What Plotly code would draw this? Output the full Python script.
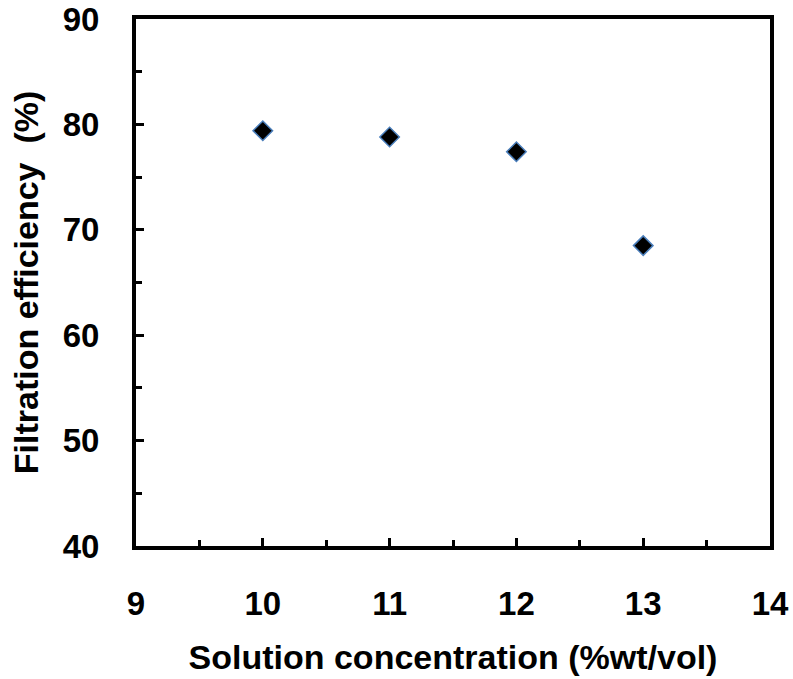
import plotly.graph_objects as go

concentration = [10, 11, 12, 13]
efficiency = [79.4, 78.8, 77.4, 68.5]
x_ticks = [9, 10, 11, 12, 13, 14]
y_ticks = [40, 50, 60, 70, 80, 90]

fig = go.Figure()
fig.add_trace(go.Scatter(
    x=concentration, y=efficiency, mode="markers",
    marker=dict(symbol="diamond", size=15, color="black",
                line=dict(color="#4a7ebb", width=1.5)),
    showlegend=False,
))

font_family = "Liberation Sans, Arial, sans-serif"
axis_common = dict(
    showline=True, linewidth=4, linecolor="black", mirror=True,
    showgrid=False, zeroline=False, automargin=False,
    ticks="inside", ticklen=8, tickwidth=3, tickcolor="black",
    tickfont=dict(family=font_family, size=33, color="black"),
)

fig.update_layout(
    width=793, height=679,
    margin=dict(l=136, r=23, t=19, b=133),
    paper_bgcolor="white", plot_bgcolor="white",
    font=dict(family=font_family, color="black"),
    xaxis=dict(
        range=[9, 14], tickvals=x_ticks, ticktext=[f"<b>{v}</b>" for v in x_ticks],
        minor=dict(dtick=0.5, tick0=9, ticks="inside", ticklen=6, tickwidth=3, tickcolor="black"),
        ticklabelstandoff=25,
        title=dict(text="<b>Solution concentration (%wt/vol)</b>",
                   font=dict(family=font_family, size=34, color="black"), standoff=26),
        **axis_common,
    ),
    yaxis=dict(
        range=[40, 90], tickvals=y_ticks, ticktext=[f"<b>{v}</b>" for v in y_ticks],
        minor=dict(dtick=5, tick0=40, ticks="inside", ticklen=6, tickwidth=3, tickcolor="black"),
        ticklabelstandoff=26,
        title=dict(text="<b>Filtration efficiency \u00a0(%)</b>",
                   font=dict(family=font_family, size=34, color="black"), standoff=15),
        **axis_common,
    ),
)

fig.write_html("out.html")
